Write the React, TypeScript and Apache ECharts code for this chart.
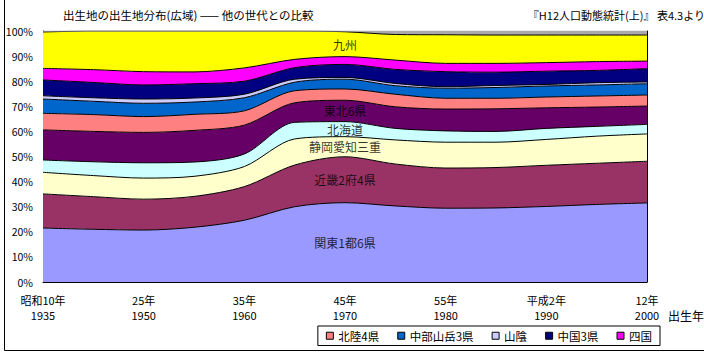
import React, { useEffect, useRef } from "react";
import * as echarts from "echarts";

// Birth cohorts (category axis), labels shown on every other category
const categories = ["1935", "1945", "1950", "1955", "1960", "1965", "1970", "1975", "1980", "1985", "1990", "1995", "2000"];
const eraLabels = ["昭和10年", "25年", "35年", "45年", "55年", "平成2年", "12年"];
const yearLabels = ["1935", "1950", "1960", "1970", "1980", "1990", "2000"];

// Share of birthplace region (%), bottom to top
const kanto = [21.5, 21.0, 20.7, 21.8, 24.6, 30.0, 31.6, 30.3, 29.4, 29.5, 30.1, 30.9, 31.5];
const kinki = [13.6, 13.0, 12.3, 12.3, 13.4, 16.6, 18.3, 16.7, 16.0, 16.1, 16.4, 16.4, 16.6];
const tokai = [8.6, 8.4, 8.4, 8.0, 8.0, 10.4, 8.0, 9.6, 10.3, 10.1, 10.3, 10.8, 10.9];
const hokkaido = [4.9, 5.5, 6.1, 5.7, 5.0, 6.6, 6.0, 4.6, 4.5, 4.3, 4.4, 3.9, 3.8];
const tohoku = [12.0, 12.1, 12.1, 12.6, 11.5, 7.8, 8.5, 8.6, 8.7, 9.0, 8.2, 7.7, 7.3];
const hokuriku = [6.6, 6.7, 6.3, 6.4, 5.7, 4.8, 4.5, 5.0, 4.3, 4.2, 4.3, 4.4, 4.4];
const chubu = [5.7, 5.3, 5.3, 4.9, 5.2, 3.4, 3.9, 3.4, 4.0, 4.3, 4.4, 4.4, 4.5];
const sanin = [1.3, 1.4, 1.7, 1.6, 1.4, 1.2, 0.7, 0.9, 0.6, 0.8, 0.6, 0.9, 0.7];
const chugoku = [6.3, 6.1, 5.6, 5.7, 5.2, 4.6, 5.2, 5.6, 6.0, 5.3, 5.3, 4.9, 5.3];
const shikoku = [4.6, 5.1, 5.3, 4.7, 5.3, 3.3, 3.1, 3.7, 3.3, 3.5, 3.4, 3.5, 3.0];
const kyushu = [14.5, 15.4, 16.2, 16.3, 14.7, 11.3, 9.9, 10.2, 11.4, 11.3, 11.0, 10.6, 10.4];
const other = [0.4, 0, 0, 0, 0, 0, 0.3, 1.4, 1.5, 1.6, 1.6, 1.6, 1.6];

const seriesNames = ["関東1都6県", "近畿2府4県", "静岡愛知三重", "北海道", "東北6県", "北陸4県", "中部山岳3県", "山陰", "中国3県", "四国", "九州", "その他"];
const seriesData = [kanto, kinki, tokai, hokkaido, tohoku, hokuriku, chubu, sanin, chugoku, shikoku, kyushu, other];
const seriesColors = ["#9999FF", "#993366", "#FFFFCC", "#CCFFFF", "#660066", "#FF8080", "#0066CC", "#CCCCFF", "#000080", "#FF00FF", "#FFFF00", "#AAAAAA"];
const legendNames = ["北陸4県", "中部山岳3県", "山陰", "中国3県", "四国"];
const bandLabelNames = ["関東1都6県", "近畿2府4県", "静岡愛知三重", "北海道", "東北6県", "九州"];
const bandLabelIndex = 6;

const FONT = "'Noto Sans CJK JP', 'Noto Sans', sans-serif";

export default function App() {
  const ref = useRef<HTMLDivElement>(null);
  useEffect(() => {
    if (!ref.current) return;
    const chart = echarts.init(ref.current, undefined, { renderer: "svg" });

    const areaSeries = seriesNames.map((name, i) => ({
      name,
      type: "line",
      stack: "total",
      data: seriesData[i],
      smooth: 0.3,
      showSymbol: false,
      symbol: "none",
      itemStyle: { color: seriesColors[i], borderColor: "#000", borderWidth: 1 },
      lineStyle: { color: name === "その他" ? seriesColors[i] : "#000", width: 1 },
      areaStyle: { color: seriesColors[i], opacity: 1 },
      emphasis: { disabled: true },
      z: 2,
    }));

    const labelData = bandLabelNames.map((name) => {
      const k = seriesNames.indexOf(name);
      let below = 0;
      for (let j = 0; j < k; j++) below += seriesData[j][bandLabelIndex];
      const mid = below + seriesData[k][bandLabelIndex] / 2;
      return { name, value: [categories[bandLabelIndex], mid] };
    });

    chart.setOption({
      animation: false,
      textStyle: { fontFamily: FONT, color: "#000" },
      grid: { left: 43, right: 57, top: 31, bottom: 75, containLabel: false },
      legend: {
        data: legendNames,
        right: 44,
        top: 326,
        icon: "rect",
        itemWidth: 7,
        itemHeight: 7,
        itemGap: 18,
        padding: [4, 8],
        borderColor: "#000",
        borderWidth: 1,
        selectedMode: false,
        itemStyle: { borderColor: "#000", borderWidth: 1 },
        textStyle: { fontSize: 11.5, fontFamily: FONT, color: "#000" },
      },
      xAxis: {
        type: "category",
        data: categories,
        boundaryGap: false,
        axisLine: { lineStyle: { color: "#000", width: 1 } },
        axisTick: { inside: true, length: 3, interval: 0, lineStyle: { color: "#000" } },
        axisLabel: {
          interval: 0,
          margin: 10,
          fontSize: 11,
          lineHeight: 15,
          color: "#000",
          fontFamily: FONT,
          formatter: (_v: string, index: number) =>
            index % 2 === 0 ? `${eraLabels[index / 2]}\n${yearLabels[index / 2]}` : "",
        },
        splitLine: { show: false },
      },
      yAxis: [
        {
          type: "value",
          min: 0,
          max: 100,
          interval: 10,
          axisLine: { show: true, lineStyle: { color: "#000", width: 1 } },
          axisTick: { show: true, inside: true, length: 3, lineStyle: { color: "#000" } },
          axisLabel: { formatter: "{value}%", fontSize: 10.5, color: "#000", margin: 10, fontFamily: FONT },
          splitLine: { show: false },
        },
        {
          type: "value",
          position: "right",
          min: 0,
          max: 100,
          interval: 10,
          axisLine: { show: true, lineStyle: { color: "#000", width: 1 } },
          axisTick: { show: false },
          axisLabel: { show: false },
          splitLine: { show: false },
        },
      ],
      series: [
        ...areaSeries,
        {
          name: "labels",
          type: "scatter",
          data: labelData,
          symbolSize: 0,
          silent: true,
          z: 10,
          label: {
            show: true,
            position: "inside",
            formatter: "{b}",
            fontSize: 12,
            color: "#000",
            fontFamily: FONT,
          },
        },
      ],
      graphic: [
        {
          type: "rect",
          shape: { x: 4.5, y: -2, width: 720, height: 352.5 },
          style: { fill: "none", stroke: "#000", lineWidth: 1 },
          silent: true,
        },
        {
          type: "text",
          x: 63,
          y: 15,
          style: {
            text: "出生地の出生地分布(広域) —— 他の世代との比較",
            fontSize: 11.5,
            fontFamily: FONT,
            fill: "#000",
            textVerticalAlign: "middle",
          },
        },
        {
          type: "text",
          x: 705,
          y: 15,
          style: {
            text: "『H12人口動態統計(上)』 表4.3より",
            fontSize: 11,
            fontFamily: FONT,
            fill: "#000",
            textAlign: "right",
            textVerticalAlign: "middle",
          },
        },
        {
          type: "text",
          x: 668,
          y: 315,
          style: {
            text: "出生年",
            fontSize: 12,
            fontFamily: FONT,
            fill: "#000",
            textVerticalAlign: "middle",
          },
        },
      ],
    });
    return () => chart.dispose();
  }, []);
  return (
    <div
      ref={ref}
      style={{ position: "absolute", left: 0, top: 0, width: 704, height: 357, background: "#fff" }}
    />
  );
}
